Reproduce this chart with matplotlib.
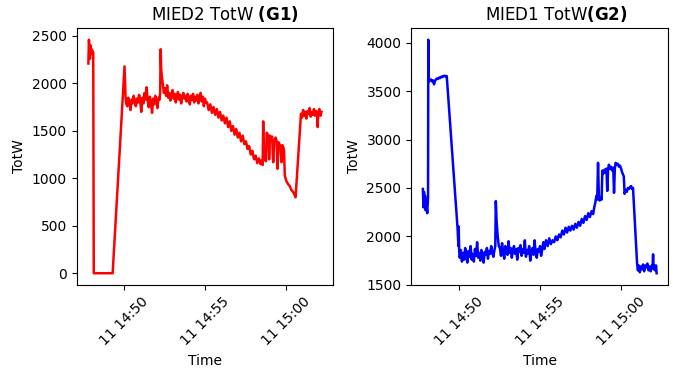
import numpy as np
import pandas as pd
import matplotlib
matplotlib.use("Agg")
import matplotlib.pyplot as plt
import matplotlib.dates as mdates

# seconds relative to 14:50:00 and readings
g1_sec = [-132, -130, -128, -126, -124, -122, -120, -118, -116, -114, -112, -42, 2, 4, 6,
          8, 12, 16, 20, 24, 28, 32, 36, 40, 44, 48, 52, 56, 60, 64, 68, 72, 76, 80, 84,
          88, 92, 96, 100, 104, 108, 112, 116, 120, 124, 128, 132,
          134, 136, 138, 140, 144, 148,
          152, 156, 160, 164, 168, 172, 176, 180, 184, 188, 192, 196, 200, 204, 208, 212,
          216, 220, 224, 228, 232, 236, 240, 244, 248, 252, 256, 260, 264, 268, 272, 276,
          280, 284, 288, 292, 296, 300, 304,
          308, 314, 320, 326, 332, 338, 344, 350, 356, 362, 368, 374, 380, 386, 392, 398,
          404, 410, 416, 422, 428, 434, 440, 446, 452, 458, 464, 470, 476, 482, 488, 494,
          500, 506, 510, 514, 516, 518, 522, 526, 529, 533, 536, 538, 541, 545, 549, 553,
          557, 562, 566, 569, 573, 578, 581, 584, 587, 590, 593, 596, 602, 608, 614, 620,
          626, 632, 636, 656,
          660, 664, 668, 672, 676, 680, 684, 688, 692, 696, 700, 704, 708, 712, 716, 718,
          720, 724, 728, 732]
g1_totw = [2210, 2460, 2390, 2260, 2400, 2330, 2360, 2310, 2340, 2320, 0, 0, 2180, 2020, 1850,
           1790, 1760, 1850, 1800, 1720, 1830, 1790, 1870, 1810, 1760, 1840, 1800, 1880, 1820, 1700, 1850, 1790, 1900, 1830, 1960,
           1810, 1750, 1860, 1800, 1690, 1840, 1780, 1870, 1820, 1740, 1850, 1830,
           1900, 2360, 2150, 2080, 1990, 1900,
           1950, 1870, 1980, 1850, 1900, 1820, 1880, 1930, 1840, 1890, 1800, 1870, 1910, 1830, 1880, 1790,
           1860, 1900, 1840, 1870, 1810, 1890, 1850, 1780, 1870, 1830, 1890, 1800, 1860, 1820, 1880, 1790,
           1850, 1900, 1810, 1860, 1760, 1840, 1800,
           1800, 1720, 1780, 1690, 1750, 1670, 1730, 1640, 1700, 1610, 1660, 1580, 1640, 1540, 1600, 1500,
           1550, 1460, 1520, 1430, 1480, 1390, 1450, 1360, 1390, 1310, 1340, 1250, 1290, 1200, 1240, 1160,
           1210, 1150, 1190, 1140, 1600, 1250, 1200, 1180, 1480, 1460, 1440, 1200, 1450, 1420, 1440, 1170,
           1400, 1430, 1390, 1100, 1380, 1350, 1300, 1170, 1350, 1330, 1300, 1030, 970, 940, 920, 880,
           860, 830, 800, 1680,
           1640, 1720, 1660, 1700, 1630, 1710, 1680, 1740, 1650, 1700, 1670, 1730, 1660, 1710, 1680, 1540,
           1690, 1730, 1660, 1700]

g2_sec = [-132, -130, -128, -126, -124, -122, -120, -118, -116, -113, -112, -110, -106, -102, -98,
          -94, -91, -88, -84, -80, -76, -72, -68, -64, -60, -56, -52, -48, -44, -4, -1, 0, 2,
          4, 8, 12, 16, 20, 24, 28, 32, 36, 40, 44, 48, 52, 56, 60, 64, 68, 72, 76, 80, 84,
          88, 92, 96, 100, 104, 108, 112, 116, 120, 124, 128, 132,
          135, 137, 140, 144, 148,
          152, 156, 160, 164, 168, 172, 176, 180, 184, 188, 192, 196, 200, 204, 208, 212,
          216, 220, 224, 228, 232, 236, 240, 244, 248, 252, 256, 260, 264, 268, 272, 276,
          280, 284, 288, 292, 296, 300, 304, 308, 312,
          316, 322, 328, 334, 340, 346, 352, 358, 364, 370, 376, 382, 388, 394, 400, 406,
          412, 418, 424, 430, 436, 442, 448, 454, 460, 466, 472, 478, 484, 490, 496, 500,
          504, 508, 511, 514, 517, 520, 524, 527, 530, 534, 538, 542, 545, 548, 551, 554,
          558, 562, 566, 570, 573, 576, 579, 583, 587, 591, 595, 599, 603, 606, 609, 612,
          616, 620, 624, 628, 632, 636, 640, 643, 658, 661, 664, 668, 672, 676, 680, 684,
          688, 692, 696, 700, 704, 708, 712, 715, 717, 719, 722, 725, 728, 730]
g2_totw = [2490, 2300, 2460, 2350, 2420, 2270, 2380, 2300, 2240, 2400, 4030, 3600, 3610, 3620, 3600,
           3610, 3570, 3600, 3620, 3630, 3625, 3640, 3635, 3650, 3645, 3655, 3660, 3650, 3655, 2080, 1900, 2100, 1850,
           1780, 1860, 1740, 1830, 1760, 1880, 1800, 1730, 1850, 1790, 1900, 1760, 1820, 1740, 1870, 1800, 1940, 1780, 1830, 1750, 1860,
           1790, 1730, 1840, 1810, 1880, 1770, 1850, 1820, 1900, 1830, 1790, 1860,
           1900, 2365, 2150, 2000, 1900,
           1880, 1800, 1930, 1840, 1770, 1900, 1850, 1810, 1950, 1830, 1880, 1780, 1860, 1900, 1820, 1870,
           1760, 1880, 1840, 1910, 1800, 1870, 1830, 1960, 1790, 1860, 1820, 1900, 1750, 1850, 1880, 1810,
           1960, 1830, 1780, 1870, 1840, 1900, 1800, 1860, 1940,
           1870, 1960, 1900, 1980, 1920, 1960, 1940, 2000, 1960, 2020, 1990, 2060, 2020, 2090, 2040, 2100,
           2060, 2110, 2070, 2130, 2090, 2150, 2110, 2180, 2140, 2210, 2170, 2240, 2200, 2260, 2230, 2300,
           2350, 2420, 2380, 2760, 2420, 2370, 2400, 2380, 2680, 2650, 2690, 2660, 2700, 2470, 2680, 2740,
           2700, 2720, 2680, 2710, 2450, 2700, 2760, 2740, 2750, 2720, 2730, 2700, 2660, 2640, 2620, 2440,
           2480, 2460, 2500, 2490, 2510, 2520, 2490, 2500, 1720, 1650, 1700, 1630, 1690, 1660, 1710, 1640,
           1700, 1680, 1720, 1650, 1690, 1640, 1700, 1680, 1815, 1660, 1700, 1650, 1700, 1620]

base = pd.Timestamp("2021-06-11 14:50:00")
t1 = base + pd.to_timedelta(g1_sec, unit="s")
t2 = base + pd.to_timedelta(g2_sec, unit="s")

fig = plt.figure(figsize=(6.73, 3.7), dpi=100)
ax1 = fig.add_axes([0.114, 0.23, 0.381, 0.694])
ax2 = fig.add_axes([0.611, 0.23, 0.382, 0.694])

ax1.plot(t1, g1_totw, color="red", linewidth=1.8)
ax1.set_title(r"MIED2 TotW $\bf{(G1)}$", x=0.578)
ax2.plot(t2, g2_totw, color="blue", linewidth=1.8)
ax2.set_title(r"MIED1 TotW$\bf{(G2)}$", x=0.564)

for ax in (ax1, ax2):
    ax.xaxis.set_major_locator(mdates.MinuteLocator(byminute=[0, 5, 10, 15, 20, 25, 30, 35, 40, 45, 50, 55]))
    ax.xaxis.set_major_formatter(mdates.DateFormatter("%d %H:%M"))
    ax.set_xlabel("Time")
    ax.set_ylabel("TotW")
    for lbl in ax.get_xticklabels():
        lbl.set_rotation(45)

plt.savefig("out.png")
